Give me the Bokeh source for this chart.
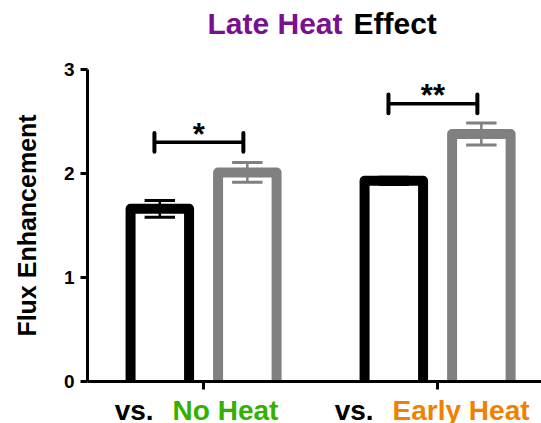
from bokeh.plotting import figure
from bokeh.layouts import column
from bokeh.models import FixedTicker, Range1d
from bokeh.core.properties import value
from bokeh.embed import file_html
from bokeh.resources import INLINE

# ---- data ----
title_parts = ["Late Heat", "Effect"]
title_colors = ["#7a0f8f", "#000000"]
group_prefix = ["vs.", "vs."]
group_names = ["No Heat", "Early Heat"]
group_name_colors = ["#33b000", "#f08000"]
late_heat_mean = [1.66, 1.93]      # black outline bars
late_heat_sem = [0.08, 0.035]
compare_mean = [2.01, 2.38]        # gray outline bars
compare_sem = [0.095, 0.105]
sig_text = ["*", "**"]
sig_height = [2.30, 2.67]
y_ticks = [0, 1, 2, 3]
groups = [1, 2]

FONT = "Liberation Sans"
BLACK = "#000000"
GRAY = "#808080"

off = 0.187
bw = 0.25
cap = 0.065
XR = Range1d(0.504, 2.444)


def strip(height):
    f = figure(width=541, height=height, output_backend="svg", toolbar_location=None,
               x_range=XR, y_range=Range1d(0, height), x_axis_location=None,
               y_axis_location=None, title=None,
               min_border_left=87, min_border_right=0, min_border_top=0, min_border_bottom=0)
    f.outline_line_color = None
    f.xgrid.visible = False
    f.ygrid.visible = False
    return f


# ---- title strip ----
t = strip(57)
mid = (XR.start + XR.end) / 2
t.text(x=[mid], y=[34.5], text=[title_parts[0]], x_offset=28, text_align="right",
       text_baseline="middle", text_font=value(FONT), text_font_style="bold",
       text_font_size="30px", text_color=title_colors[0])
t.text(x=[mid], y=[34.5], text=[title_parts[1]], x_offset=39, text_align="left",
       text_baseline="middle", text_font=value(FONT), text_font_style="bold",
       text_font_size="30px", text_color=title_colors[1])

# ---- main plot ----
p = figure(width=541, height=336, output_backend="svg", toolbar_location=None,
           x_range=XR, y_range=Range1d(0, 3), title=None,
           min_border_left=87, min_border_right=0, min_border_top=12, min_border_bottom=12)
p.outline_line_color = None
p.xgrid.visible = False
p.ygrid.visible = False


def bars(centers, tops, color):
    xs = [[c - bw / 2, c - bw / 2, c + bw / 2, c + bw / 2] for c in centers]
    ys = [[0, tp, tp, 0] for tp in tops]
    p.multi_line(xs, ys, line_color=color, line_width=10, line_join="round")


def errs(centers, means, sems, color):
    hi = [m + s for m, s in zip(means, sems)]
    lo = [m - s for m, s in zip(means, sems)]
    p.segment(x0=centers, y0=lo, x1=centers, y1=hi, line_color=color, line_width=2.5)
    p.segment(x0=[c - cap for c in centers], y0=hi, x1=[c + cap for c in centers], y1=hi,
              line_color=color, line_width=3)
    p.segment(x0=[c - cap for c in centers], y0=lo, x1=[c + cap for c in centers], y1=lo,
              line_color=color, line_width=3)


lh_x = [g - off for g in groups]
cp_x = [g + off for g in groups]
bars(lh_x, late_heat_mean, BLACK)
bars(cp_x, compare_mean, GRAY)
errs(lh_x, late_heat_mean, late_heat_sem, BLACK)
errs(cp_x, compare_mean, compare_sem, GRAY)

# significance brackets
bl = [g - 0.21 for g in groups]
br = [g + 0.17 for g in groups]
p.segment(x0=bl, y0=sig_height, x1=br, y1=sig_height, line_color=BLACK, line_width=3.5)
p.segment(x0=bl, y0=[h - 0.09 for h in sig_height], x1=bl, y1=[h + 0.09 for h in sig_height],
          line_color=BLACK, line_width=4, line_cap="round")
p.segment(x0=br, y0=[h - 0.09 for h in sig_height], x1=br, y1=[h + 0.09 for h in sig_height],
          line_color=BLACK, line_width=4, line_cap="round")
p.text(x=[(a + c) / 2 for a, c in zip(bl, br)], y=sig_height, text=sig_text,
       text_font=value(FONT), text_font_style="bold", text_font_size="31px",
       text_align="center", text_baseline="middle", text_color=BLACK, y_offset=-8)

# axes
p.yaxis.ticker = FixedTicker(ticks=y_ticks)
p.yaxis.minor_tick_line_color = None
p.yaxis.axis_line_width = 3
p.yaxis.major_tick_line_width = 3
p.yaxis.major_tick_out = 7
p.yaxis.major_tick_in = 0
p.yaxis.major_label_standoff = 6
p.yaxis.major_label_text_font = FONT
p.yaxis.major_label_text_font_style = "bold"
p.yaxis.major_label_text_font_size = "19px"
p.yaxis.major_label_text_color = BLACK
p.yaxis.axis_label = "Flux Enhancement"
p.yaxis.axis_label_text_font = FONT
p.yaxis.axis_label_text_font_style = "bold"
p.yaxis.axis_label_text_font_size = "25px"
p.yaxis.axis_label_text_color = BLACK
p.yaxis.axis_label_standoff = 20

p.xaxis.ticker = FixedTicker(ticks=groups)
p.xaxis.minor_tick_line_color = None
p.xaxis.axis_line_width = 3
p.xaxis.major_tick_line_width = 3
p.xaxis.major_tick_out = 8
p.xaxis.major_tick_in = 0
p.xaxis.major_label_text_font_size = "1px"
p.xaxis.major_label_standoff = 0
p.xaxis.major_label_text_color = None

# ---- category labels (two colours) in a strip below the axis ----
b = strip(30)
pre_off = [-50, -64]
name_off = [-31, -45]
b.text(x=groups, y=[13, 13], text=group_prefix, x_offset=pre_off, text_align="right",
       text_baseline="middle", text_font=value(FONT), text_font_style="bold",
       text_font_size="28px", text_color=BLACK)
b.text(x=groups, y=[13, 13], text=group_names, x_offset=name_off, text_align="left",
       text_baseline="middle", text_font=value(FONT), text_font_style="bold",
       text_font_size="28px", text_color=group_name_colors)

layout = column(t, p, b, spacing=0)
open("out.html", "w").write(file_html(layout, INLINE))
